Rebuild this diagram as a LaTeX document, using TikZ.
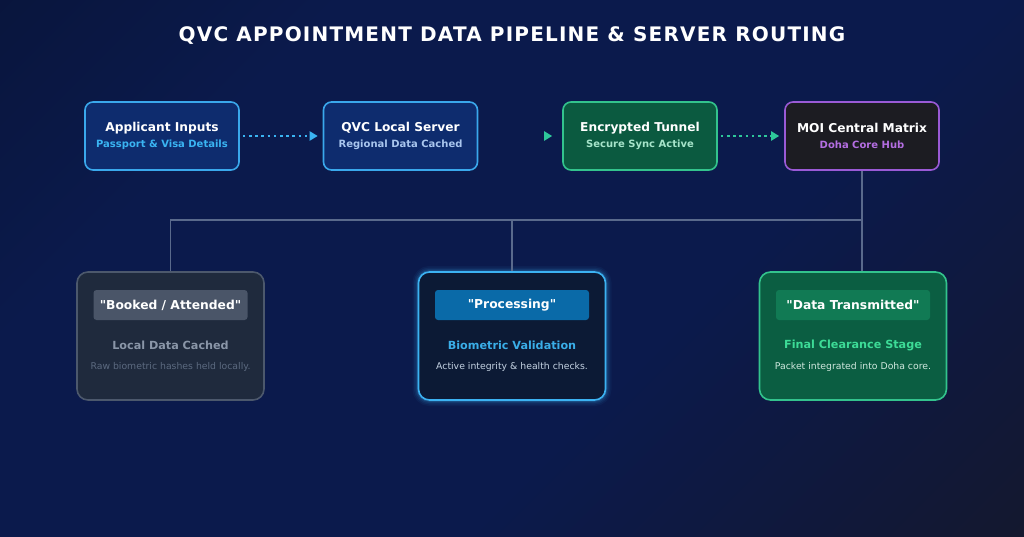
\documentclass[tikz,border=0pt]{standalone}
\usepackage{fontspec}
\setmainfont{DejaVu Sans}[Ligatures=TeXOff]
\usetikzlibrary{arrows.meta,shadings}
\definecolor{bgA}{HTML}{07112F}
\definecolor{bgB}{HTML}{0B1A4C}
\definecolor{bgC}{HTML}{19191C}
\definecolor{bgD}{HTML}{111838}
\definecolor{blueFill}{HTML}{0E2C6E}
\definecolor{blueLine}{HTML}{3AA8EC}
\definecolor{blueText}{HTML}{3AB4F2}
\definecolor{paleBlue}{HTML}{A9C6EE}
\definecolor{greenFill}{HTML}{0B5A40}
\definecolor{greenLine}{HTML}{33C38D}
\definecolor{greenText}{HTML}{A6E4CA}
\definecolor{greenArrow}{HTML}{2EC79A}
\definecolor{moiFill}{HTML}{1C1C22}
\definecolor{purpleLine}{HTML}{9A5AD6}
\definecolor{purpleText}{HTML}{B46EE2}
\definecolor{wire}{HTML}{5A6A8C}
\definecolor{grayFill}{HTML}{1F2A3D}
\definecolor{grayLine}{HTML}{4C586C}
\definecolor{grayPill}{HTML}{4A5568}
\definecolor{grayText}{HTML}{8A96A8}
\definecolor{grayDim}{HTML}{5C6A80}
\definecolor{midFill}{HTML}{0C1A35}
\definecolor{midLine}{HTML}{3CB2F2}
\definecolor{midPill}{HTML}{0A6AA8}
\definecolor{midText}{HTML}{3AAEE8}
\definecolor{midSmall}{HTML}{C4D2E2}
\definecolor{rFill}{HTML}{0B5E42}
\definecolor{rPill}{HTML}{117A54}
\definecolor{rText}{HTML}{3DDC97}
\definecolor{rSmall}{HTML}{D0E8DE}
\pgfdeclareverticalshading{bgshade}{100bp}{color(0bp)=(bgC); color(22bp)=(bgD); color(40bp)=(bgB); color(70bp)=(bgB); color(100bp)=(bgA)}
\tikzset{
  topbox/.style={rounded corners=8pt, line width=1.6pt, minimum width=154pt, minimum height=68pt, align=center, inner sep=0pt},
  botbox/.style={rounded corners=11pt, line width=1.6pt, minimum width=187pt, minimum height=128pt, inner sep=0pt},
  pill/.style={rounded corners=3pt, minimum width=154pt, minimum height=30pt, inner sep=0pt, font=\fontsize{12.3}{14}\selectfont\bfseries, text=white},
  hd/.style={font=\fontsize{11.2}{13}\selectfont\bfseries},
  sm/.style={font=\fontsize{9.3}{11}\selectfont},
  dotarrow/.style={line width=2.6pt, dash pattern=on 2.6pt off 3.6pt, -{Triangle[length=8pt,width=9pt]}, shorten <=3pt, shorten >=5pt},
  tiponly/.style={line width=2pt, dash pattern=on 0pt off 1000pt, -{Triangle[length=8pt,width=9pt]}, shorten >=10pt},
  wireline/.style={wire, line width=1.6pt}
}
\begin{document}
\begin{tikzpicture}[x=1pt,y=-1pt]
\useasboundingbox (0,0) rectangle (1024,537);
\shade[shading=bgshade, shading angle=45] (0,0) rectangle (1024,537);

\node[text=white, font=\fontsize{20}{24}\selectfont\bfseries\addfontfeatures{LetterSpace=6}] (title) at (512,36) {QVC APPOINTMENT DATA PIPELINE \& SERVER ROUTING};

% top row
\node[topbox, fill=blueFill, draw=blueLine, text=white] (a) at (162,136)
  {{\fontsize{12.2}{15}\selectfont\bfseries Applicant Inputs}\\[3.5pt]{\fontsize{10}{12}\selectfont\bfseries\color{blueText}Passport \& Visa Details}};
\node[topbox, fill=blueFill, draw=blueLine, text=white] (b) at (400.5,136)
  {{\fontsize{12.2}{15}\selectfont\bfseries QVC Local Server}\\[3.5pt]{\fontsize{10}{12}\selectfont\bfseries\color{paleBlue}Regional Data Cached}};
\node[topbox, fill=greenFill, draw=greenLine, text=white] (c) at (640,136)
  {{\fontsize{12.2}{15}\selectfont\bfseries Encrypted Tunnel}\\[3.5pt]{\fontsize{10}{12}\selectfont\bfseries\color{greenText}Secure Sync Active}};
\node[topbox, fill=moiFill, draw=purpleLine, text=white] (d) at (862,136)
  {{\fontsize{12.2}{15}\selectfont\bfseries MOI Central Matrix}\\[3.5pt]{\fontsize{10}{12}\selectfont\bfseries\color{purpleText}Doha Core Hub}};

\draw[dotarrow, blueText] (a.east) -- (b.west);
\draw[tiponly, greenArrow] (b.east) -- (c.west);
\draw[dotarrow, greenArrow] (c.east) -- (d.west);

% bottom row
\node[botbox, fill=grayFill, draw=grayLine] (l) at (170.5,336) {};
\foreach \w/\o in {12/0.05,9/0.07,6/0.1,3.5/0.18}{
  \draw[midLine, line width=\w pt, opacity=\o, rounded corners=11pt] (418.5,272) rectangle (605.5,400);
}
\node[botbox, fill=midFill, draw=midLine] (m) at (512,336) {};
\node[botbox, fill=rFill, draw=greenLine] (r) at (853,336) {};

\node[pill, fill=grayPill] (lp) at (170.5,305) {"Booked / Attended"};
\node[hd, text=grayText] (lh) at (170.5,345) {Local Data Cached};
\node[sm, text=grayDim] (ls) at (170.5,367) {Raw biometric hashes held locally.};

\node[pill, fill=midPill] (mp) at (512,305) {"Processing"};
\node[hd, text=midText] (mh) at (512,345) {Biometric Validation};
\node[sm, text=midSmall] (ms) at (512,367) {Active integrity \& health checks.};

\node[pill, fill=rPill] (rp) at (853,305) {"Data Transmitted"};
\node[hd, text=rText] (rh) at (853,345) {Final Clearance Stage};
\node[sm, text=rSmall] (rs) at (853,367) {Packet integrated into Doha core.};

% wires
\coordinate (j) at (d.south |- 0,220);
\draw[wireline] (d.south) -- (d.south |- r.north);
\draw[wireline] (j) -| (l.north);
\draw[wireline] (m.north |- j) -- (m.north);
\end{tikzpicture}
\end{document}
